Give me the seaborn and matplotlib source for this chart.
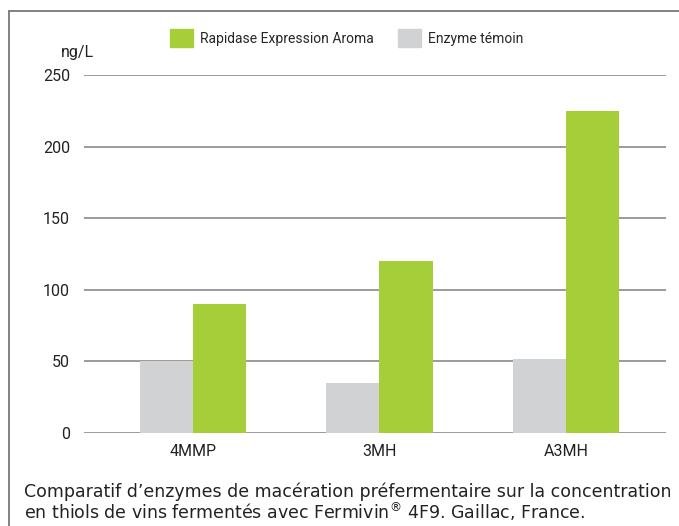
import matplotlib
matplotlib.use("Agg")
import matplotlib.pyplot as plt
import seaborn as sns
import pandas as pd
from matplotlib.patches import Patch
from matplotlib.lines import Line2D

categories = ["4MMP", "3MH", "A3MH"]
series_names = ["Enzyme témoin", "Rapidase Expression Aroma"]
temoin = [50, 35, 52]
rapidase = [90, 120, 225]
yticks = [0, 50, 100, 150, 200, 250]
colors = {"Enzyme témoin": "#d1d2d4", "Rapidase Expression Aroma": "#a6ce39"}

df = pd.DataFrame({
    "cat": categories * 2,
    "serie": [series_names[0]] * 3 + [series_names[1]] * 3,
    "val": temoin + rapidase,
})

sns.set_theme(style="white")
plt.rcParams["font.family"] = ["Roboto", "DejaVu Sans"]

fig = plt.figure(figsize=(6.79, 5.26), dpi=100)
ax = fig.add_axes([84/679, 1-433/526, (666-84)/679, (433-75)/526])

sns.barplot(data=df, x="cat", y="val", hue="serie", hue_order=series_names,
            palette=colors, width=0.57, ax=ax, legend=False, saturation=1)
for p in ax.patches:
    p.set_linewidth(0)

ax.set_xlim(-0.584, 2.537)
ax.set_ylim(0, 250)
ax.set_yticks(yticks)
ax.set_yticklabels([str(t) for t in yticks], fontsize=11.5, color="#222222")
ax.set_xticklabels(categories, fontsize=11.5, color="#222222")
ax.tick_params(axis="y", length=0, pad=10)
ax.tick_params(axis="x", length=0, pad=8)
ax.set_xlabel("")
ax.set_ylabel("")
for s in ax.spines.values():
    s.set_visible(False)
ax.yaxis.grid(True, color="#8a8a8a", linewidth=1.2)
ax.set_axisbelow(True)
ax.patch.set_alpha(0)

fig.text(77/679, 1-52/526, "ng/L", fontsize=11.5, ha="center", va="center", color="#222222")

handles = [Patch(color=colors[series_names[1]]), Patch(color=colors[series_names[0]])]
fig.legend(handles, [series_names[1], series_names[0]], loc="center left",
           bbox_to_anchor=(167/679, 1-38/526), ncol=2, frameon=False,
           fontsize=10, handlelength=1.65, handleheight=1.65, columnspacing=1.8,
           handletextpad=0.5, borderpad=0.2, borderaxespad=0)

# border
fig.add_artist(Line2D([9/679, 9/679], [0, 1-11/526], transform=fig.transFigure,
                      color="#6d6d6d", linewidth=1.2))
fig.add_artist(Line2D([9/679, 1], [1-11/526, 1-11/526], transform=fig.transFigure,
                      color="#6d6d6d", linewidth=1.2))

fig.text(24/679, 1-492/526,
         "Comparatif d’enzymes de macération préfermentaire sur la concentration",
         fontsize=12.5, family="DejaVu Sans", va="center", color="#222222")
fig.text(24/679, 1-512/526,
         r"en thiols de vins fermentés avec Fermivin$^{\circledR}$ 4F9. Gaillac, France.",
         fontsize=12.5, family="DejaVu Sans", va="center", color="#222222")

fig.savefig("out.png", dpi=100)
